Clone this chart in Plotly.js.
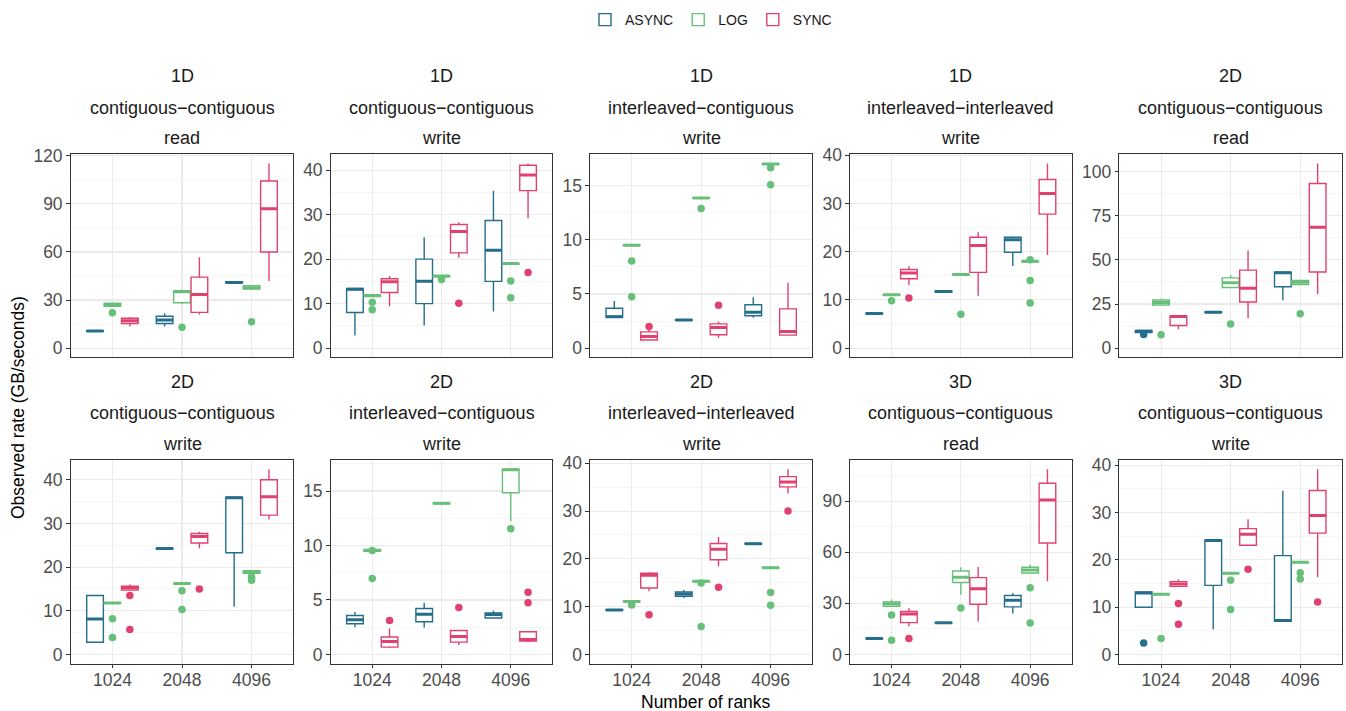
<!DOCTYPE html>
<html>
<head>
<meta charset="utf-8">
<script src="https://cdn.plot.ly/plotly-3.0.1.min.js"></script>
<style>html,body{margin:0;padding:0;background:#fff;}#chart{width:1346px;height:711px;}</style>
</head>
<body>
<div id="chart"></div>
<script>
// ---------- DATA ----------
const ranks = ['1024', '2048', '4096'];
const groups = ['ASYNC', 'LOG', 'SYNC'];
const groupColors = ['#246E8C', '#68BF79', '#E1416F'];

const panelDims = ['1D', '1D', '1D', '1D', '2D', '2D', '2D', '2D', '3D', '3D'];
const panelLayouts = ['contiguous\u2212contiguous', 'contiguous\u2212contiguous', 'interleaved\u2212contiguous', 'interleaved\u2212interleaved', 'contiguous\u2212contiguous',
                      'contiguous\u2212contiguous', 'interleaved\u2212contiguous', 'interleaved\u2212interleaved', 'contiguous\u2212contiguous', 'contiguous\u2212contiguous'];
const panelOps = ['read', 'write', 'write', 'write', 'read', 'write', 'write', 'write', 'read', 'write'];
const panelTickStep = [30, 10, 5, 10, 25, 10, 5, 10, 30, 10];

// rows: ASYNC 1024/2048/4096, LOG 1024/2048/4096, SYNC 1024/2048/4096 ; [lower whisker, q1, median, q3, upper whisker]
const s1D_cc_read = [
  [10.3, 10.4, 10.6, 10.9, 11.0], [13.4, 15.3, 17.6, 19.9, 21.7], [40.6, 40.7, 41.0, 41.5, 41.6],
  [26.0, 26.0, 27.0, 28.0, 28.0], [27.5, 28.3, 35.2, 35.8, 36.4], [36.8, 36.8, 37.7, 38.9, 38.9],
  [13.4, 15.3, 17.0, 18.6, 19.4], [21.0, 22.3, 33.5, 44.3, 56.7], [41.8, 60.0, 87.0, 104.3, 115.2]];
const o1D_cc_read = [[], [], [], [22.1], [13.0], [16.5], [], [], []];

const s1D_cc_write = [
  [2.8, 8.0, 13.2, 13.4, 13.5], [5.1, 10.0, 15.0, 20.0, 24.9], [8.2, 15.0, 22.0, 28.7, 35.4],
  [11.5, 11.6, 11.8, 11.9, 12.0], [15.9, 16.0, 16.2, 16.3, 16.4], [18.8, 18.85, 19.0, 19.05, 19.1],
  [9.4, 12.5, 14.9, 15.6, 16.2], [20.3, 21.4, 26.2, 27.8, 28.3], [29.2, 35.4, 38.9, 41.1, 41.5]];
const o1D_cc_write = [[], [], [], [10.3, 8.6], [15.4], [15.1, 11.3], [], [10.1], [17.0]];

const s1D_ic_write = [
  [2.85, 2.85, 2.9, 3.68, 4.35], [2.55, 2.57, 2.6, 2.63, 2.65], [2.8, 2.98, 3.3, 4.0, 4.7],
  [9.45, 9.47, 9.5, 9.53, 9.55], [13.82, 13.84, 13.87, 13.9, 13.92], [16.95, 16.97, 17.0, 17.03, 17.05],
  [0.67, 0.74, 1.07, 1.5, 1.75], [0.92, 1.23, 1.9, 2.24, 2.45], [1.13, 1.2, 1.53, 3.62, 6.04]];
const o1D_ic_write = [[], [], [], [8.04, 4.75], [12.9], [16.65, 15.1], [2.0], [3.96], []];

const s1D_ii_write = [
  [7.0, 7.05, 7.15, 7.25, 7.3], [11.5, 11.6, 11.75, 11.9, 12.0], [17.05, 19.9, 22.5, 23.0, 23.2],
  [10.9, 10.95, 11.07, 11.15, 11.2], [15.15, 15.2, 15.26, 15.32, 15.35], [17.85, 17.9, 18.0, 18.1, 18.15],
  [13.1, 14.4, 15.6, 16.3, 17.0], [10.86, 15.7, 21.3, 23.0, 24.05], [19.3, 27.8, 32.1, 35.0, 38.3]];
const o1D_ii_write = [[], [], [], [9.8], [7.0], [18.35, 14.0, 9.35], [10.4], [], []];

const s2D_cc_read = [
  [8.8, 8.8, 9.6, 10.0, 10.0], [20.0, 20.1, 20.3, 20.5, 20.6], [27.1, 34.8, 42.7, 43.0, 43.0],
  [24.4, 24.4, 25.9, 27.3, 28.0], [33.8, 34.4, 37.0, 39.8, 41.4], [36.1, 36.1, 37.4, 38.3, 38.5],
  [10.7, 12.8, 17.9, 18.2, 18.4], [16.9, 26.1, 34.0, 44.2, 55.3], [30.5, 43.2, 68.6, 93.4, 104.7]];
const o2D_cc_read = [[7.7], [], [], [7.5], [13.7], [19.5], [], [], []];

const s2D_cc_write = [
  [2.8, 2.8, 8.1, 13.5, 13.5], [24.1, 24.15, 24.26, 24.35, 24.4], [10.9, 23.3, 35.9, 36.0, 36.0],
  [11.7, 11.75, 11.8, 11.85, 11.9], [16.15, 16.2, 16.27, 16.33, 16.4], [18.55, 18.55, 18.9, 19.2, 19.3],
  [14.75, 14.75, 15.3, 15.6, 16.0], [24.3, 25.5, 27.0, 27.7, 28.1], [30.9, 31.9, 36.1, 40.0, 42.4]];
const o2D_cc_write = [[], [], [], [8.2, 3.9], [14.6, 10.3], [17.8, 17.5, 17.0], [13.5, 5.7], [15.0], []];

const s2D_ic_write = [
  [2.5, 2.82, 3.18, 3.58, 3.89], [2.48, 3.0, 3.7, 4.22, 4.74], [3.28, 3.34, 3.67, 3.8, 4.04],
  [9.45, 9.47, 9.55, 9.63, 9.65], [13.8, 13.83, 13.87, 13.91, 13.94], [12.24, 14.85, 16.96, 17.0, 17.0],
  [0.6, 0.67, 1.19, 1.6, 2.39], [0.86, 1.13, 1.65, 2.2, 2.27], [1.13, 1.22, 1.38, 2.08, 2.1]];
const o2D_ic_write = [[], [], [], [9.55, 6.98], [], [11.54], [3.12], [4.32], [5.72, 4.74]];

const s2D_ii_write = [
  [9.2, 9.22, 9.3, 9.38, 9.4], [11.8, 12.17, 12.66, 13.08, 13.5], [23.05, 23.1, 23.17, 23.25, 23.3],
  [10.95, 11.0, 11.06, 11.12, 11.15], [15.15, 15.2, 15.3, 15.4, 15.45], [18.05, 18.1, 18.16, 18.22, 18.25],
  [13.2, 13.9, 16.55, 17.0, 17.2], [18.43, 19.8, 22.0, 23.2, 24.56], [33.7, 35.06, 36.1, 37.2, 38.75]];
const o2D_ii_write = [[], [], [], [10.37], [14.96, 5.84], [12.94, 10.3], [8.28], [14.05], [30.0]];

const s3D_cc_read = [
  [9.1, 9.2, 9.37, 9.5, 9.6], [18.3, 18.4, 18.55, 18.7, 18.8], [24.0, 27.9, 31.8, 34.6, 36.1],
  [27.9, 28.3, 29.7, 30.8, 32.2], [35.0, 42.2, 45.3, 49.0, 51.2], [47.8, 47.8, 49.6, 51.2, 52.7],
  [16.6, 18.7, 23.8, 25.2, 27.1], [19.3, 29.5, 38.5, 45.1, 51.3], [43.0, 65.4, 90.6, 100.5, 108.7]];
const o3D_cc_read = [[], [], [], [23.2, 8.4], [27.3], [39.2, 18.5], [9.4], [], []];

const s3D_cc_write = [
  [9.98, 9.98, 13.0, 13.2, 13.2], [5.27, 14.6, 24.1, 24.2, 24.4], [7.03, 7.03, 7.17, 20.9, 34.6],
  [12.65, 12.68, 12.72, 12.76, 12.8], [17.08, 17.1, 17.15, 17.2, 17.22], [19.4, 19.43, 19.47, 19.51, 19.55],
  [14.4, 14.4, 14.9, 15.4, 15.9], [23.1, 23.1, 25.4, 26.6, 28.6], [16.3, 25.66, 29.4, 34.66, 39.16]];
const o3D_cc_write = [[2.4], [], [], [3.37], [15.7, 9.5], [17.3, 15.96], [10.76, 6.4], [18.0], [11.1]];

const panelStats = [s1D_cc_read, s1D_cc_write, s1D_ic_write, s1D_ii_write, s2D_cc_read,
                    s2D_cc_write, s2D_ic_write, s2D_ii_write, s3D_cc_read, s3D_cc_write];
const panelOutliers = [o1D_cc_read, o1D_cc_write, o1D_ic_write, o1D_ii_write, o2D_cc_read,
                       o2D_cc_write, o2D_ic_write, o2D_ii_write, o3D_cc_read, o3D_cc_write];

// ---------- LAYOUT GEOMETRY (pixels) ----------
const W = 1346, H = 711;
const colPx = [[70.7, 293.3], [330.7, 552.3], [590, 812.3], [850, 1071.7], [1119.3, 1342]];
const rowPx = [[154.3, 357.3], [460, 663.7]];
const FONT = 'Liberation Sans, Arial, Helvetica, sans-serif';
const boxW = 0.24, dodge = 0.25;

const traces = [];
const layout = {
  width: W, height: H,
  margin: {l: 0, r: 0, t: 0, b: 0},
  paper_bgcolor: '#ffffff', plot_bgcolor: '#ffffff',
  font: {family: FONT},
  showlegend: true,
  legend: {orientation: 'h', x: 711 / W, xanchor: 'center', y: 1 - 4 / H, yanchor: 'top',
           font: {size: 14, family: FONT, color: '#1A1A1A'}, traceorder: 'normal', itemwidth: 30},
  annotations: []
};

for (let p = 0; p < 10; p++) {
  const row = p < 5 ? 0 : 1, col = p % 5;
  const idx = p + 1;
  const xa = 'x' + (idx === 1 ? '' : idx), ya = 'y' + (idx === 1 ? '' : idx);
  const stats = panelStats[p], outs = panelOutliers[p];
  let vmax = 0;
  stats.forEach(s => s.forEach(v => { if (v > vmax) vmax = v; }));
  outs.forEach(o => o.forEach(v => { if (v > vmax) vmax = v; }));

  for (let g = 0; g < 3; g++) {
    const pos = [], lo = [], q1 = [], med = [], q3 = [], hi = [];
    const mx = [], my = [], ox = [], oy = [];
    for (let r = 0; r < 3; r++) {
      const s = stats[g * 3 + r];
      const x = r + 1 + (g - 1) * dodge;
      pos.push(x); lo.push(s[0]); q1.push(s[1]); med.push(s[2]); q3.push(s[3]); hi.push(s[4]);
      mx.push(x - boxW / 2, x + boxW / 2, null); my.push(s[2], s[2], null);
      outs[g * 3 + r].forEach(v => { ox.push(x); oy.push(v); });
    }
    traces.push({
      type: 'box', x: pos, q1: q1, median: med, q3: q3, lowerfence: lo, upperfence: hi,
      width: boxW, whiskerwidth: 0, boxpoints: false, fillcolor: '#ffffff',
      line: {color: groupColors[g], width: 1.4},
      name: groups[g], legendgroup: groups[g], showlegend: p === 0,
      xaxis: xa, yaxis: ya, hoverinfo: 'y'
    });
    traces.push({
      type: 'scatter', mode: 'lines', x: mx, y: my, line: {color: groupColors[g], width: 3},
      showlegend: false, legendgroup: groups[g], xaxis: xa, yaxis: ya, hoverinfo: 'skip'
    });
    if (ox.length) {
      traces.push({
        type: 'scatter', mode: 'markers', x: ox, y: oy,
        marker: {color: groupColors[g], size: 7.5, line: {width: 0}},
        showlegend: false, legendgroup: groups[g], xaxis: xa, yaxis: ya, hoverinfo: 'y'
      });
    }
  }

  const step = panelTickStep[p];
  layout['xaxis' + (idx === 1 ? '' : idx)] = {
    domain: [colPx[col][0] / W, colPx[col][1] / W],
    anchor: ya, range: [0.4, 3.6],
    tickmode: 'array', tickvals: [1, 2, 3], ticktext: ranks,
    showticklabels: row === 1, ticks: row === 1 ? 'outside' : '', ticklen: 3.5, tickwidth: 1, tickcolor: '#333333',
    ticklabelstandoff: -3,
    tickfont: {size: 17.5, color: '#4D4D4D', family: FONT},
    showgrid: true, gridcolor: '#EBEBEB', gridwidth: 1.1, zeroline: false,
    showline: true, mirror: true, linecolor: '#333333', linewidth: 1.1, fixedrange: true
  };
  layout['yaxis' + (idx === 1 ? '' : idx)] = {
    domain: [1 - rowPx[row][1] / H, 1 - rowPx[row][0] / H],
    anchor: xa, range: [-0.05 * vmax, 1.05 * vmax],
    tickmode: 'linear', tick0: 0, dtick: step,
    ticks: 'outside', ticklen: 3.5, tickwidth: 1, tickcolor: '#333333',
    tickfont: {size: 17.5, color: '#4D4D4D', family: FONT},
    showgrid: true, gridcolor: '#EBEBEB', gridwidth: 1.1, zeroline: false,
    minor: {tick0: step / 2, dtick: step, showgrid: true, gridcolor: '#F2F2F2', gridwidth: 0.7, ticks: ''},
    showline: true, mirror: true, linecolor: '#333333', linewidth: 1.1, fixedrange: true
  };

  const cx = (colPx[col][0] + colPx[col][1]) / 2 / W;
  const top = rowPx[row][0];
  const lines = [panelDims[p], panelLayouts[p], panelOps[p]];
  const offs = [78.3, 46.6, 16.3];
  lines.forEach((t, i) => {
    layout.annotations.push({
      text: t, x: cx, y: 1 - (top - offs[i]) / H, xref: 'paper', yref: 'paper',
      xanchor: 'center', yanchor: 'middle', showarrow: false,
      font: {size: 18, color: '#1A1A1A', family: FONT}
    });
  });
}

layout.annotations.push({
  text: 'Observed rate (GB/seconds)', x: 18 / W, y: 1 - 408 / H, xref: 'paper', yref: 'paper',
  xanchor: 'center', yanchor: 'middle', textangle: -90, showarrow: false,
  font: {size: 17.5, color: '#000000', family: FONT}
});
layout.annotations.push({
  text: 'Number of ranks', x: 706.4 / W, y: 1 - 701.5 / H, xref: 'paper', yref: 'paper',
  xanchor: 'center', yanchor: 'middle', showarrow: false,
  font: {size: 17.5, color: '#000000', family: FONT}
});

Plotly.newPlot('chart', traces, layout, {displayModeBar: false, staticPlot: true});
</script>
</body>
</html>
